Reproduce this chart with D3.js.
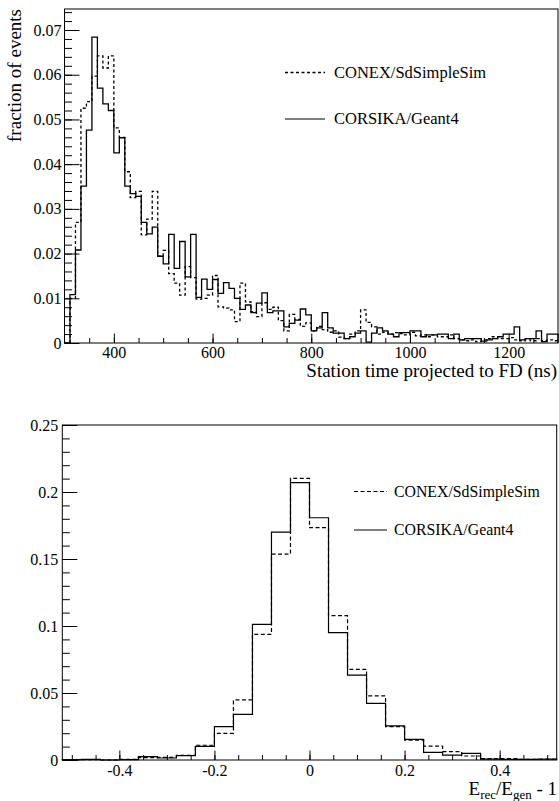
<!DOCTYPE html>
<html>
	<head>
		<meta charset="utf-8"/>
		<script src="https://d3js.org/d3.v7.min.js"></script>
		<style>
			body {
				margin: 0;
				background: #fff;
			}
			svg text {
				font-family: "Liberation Serif", "Times New Roman", serif;
				fill: #000;
			}
			.frame {
				fill: none;
				stroke: #000;
				stroke-width: 1;
			}
			.axis path.domain {
				display: none;
			}
			.axis line {
				stroke: #000;
				stroke-width: 1;
			}
			.hist {
				fill: none;
				stroke: #000;
			}
		</style>
	</head>
	<body>
		<svg id="chart" width="559" height="801"></svg>
		<script>
			// station time histogram, 90 bins from 300 to 1300 ns
			var timeRange = [300, 1300];
			var timeCorsika = [
				0, 0.0108, 0.0208, 0.0351, 0.0476, 0.0684, 0.0570, 0.0535, 0.0520, 0.0425,
				0.0459, 0.0351, 0.0334, 0.0328, 0.0270, 0.0244, 0.0259, 0.0194, 0.0177, 0.0243,
				0.0167, 0.0227, 0.0148, 0.0243, 0.0102, 0.0143, 0.0120, 0.0142, 0.0111, 0.0135,
				0.0122, 0.0100, 0.0075, 0.0085, 0.0068, 0.0089, 0.0112, 0.0068, 0.0072, 0.0072,
				0.0036, 0.0044, 0.0051, 0.0076, 0.0063, 0.0027, 0.0034, 0.0068, 0.0034, 0.0022,
				0.0022, 0.0010, 0.0014, 0.0022, 0.0027, 0.0002, 0.0022, 0.0034, 0.0027, 0.0020,
				0.0014, 0.0023, 0.0023, 0.0027, 0.0027, 0.0014, 0.0018, 0.0018, 0.0020, 0.0020,
				0.0010, 0.0020, 0.0007, 0.0010, 0.0010, 0.0010, 0.0004, 0.0007, 0.0010, 0.0014,
				0.0020, 0.0020, 0.0036, 0.0007, 0.0010, 0.0010, 0.0027, 0.0003, 0.0020, 0.0020
			];
			var timeConex = [
				0, 0.0100, 0.0270, 0.0525, 0.0540, 0.0597, 0.0642, 0.0615, 0.0642, 0.0481,
				0.0460, 0.0383, 0.0325, 0.0339, 0.0242, 0.0277, 0.0339, 0.0194, 0.0207, 0.0155,
				0.0134, 0.0107, 0.0171, 0.0146, 0.0098, 0.0100, 0.0107, 0.0151, 0.0081, 0.0078,
				0.0074, 0.0048, 0.0134, 0.0092, 0.0070, 0.0059, 0.0090, 0.0075, 0.0080, 0.0050,
				0.0027, 0.0064, 0.0053, 0.0037, 0.0045, 0.0027, 0.0037, 0.0030, 0.0024, 0.0027,
				0.0013, 0.0010, 0.0020, 0.0027, 0.0074, 0.0046, 0.0036, 0.0020, 0.0024, 0.0020,
				0.0023, 0.0021, 0.0018, 0.0024, 0.0016, 0.0018, 0.0014, 0.0018, 0.0014, 0.0014,
				0.0018, 0.0010, 0.0007, 0.0005, 0.0007, 0.0003, 0.0007, 0.0010, 0.0014, 0.0010,
				0.0010, 0.0012, 0.0007, 0.0005, 0.0007, 0.0005, 0.0010, 0.0005, 0.0007, 0.0005
			];
			var timeXTicks = [400, 600, 800, 1000, 1200];
			var timeYTicks = [0, 0.01, 0.02, 0.03, 0.04, 0.05, 0.06, 0.07];
			var timeYLabels = ["0", "0.01", "0.02", "0.03", "0.04", "0.05", "0.06", "0.07"];

			// energy resolution histogram, 26 bins of 0.04
			var energyRange = [-0.52, 0.52];
			var energyCorsika = [
				0.0003, 0.0005, 0, 0.0003, 0.0025, 0.0015, 0.0032, 0.0102, 0.0249, 0.0341,
				0.1012, 0.1701, 0.2070, 0.1808, 0.0950, 0.0634, 0.0423, 0.0254, 0.0154, 0.0057,
				0.0037, 0.0050, 0.0007, 0.0005, 0.0005, 0.0007
			];
			var energyConex = [
				0, 0.0003, 0, 0.0005, 0.0017, 0.0020, 0.0035, 0.0110, 0.0199, 0.0448,
				0.0938, 0.1537, 0.2102, 0.1734, 0.1077, 0.0677, 0.0478, 0.0249, 0.0149, 0.0104,
				0.0062, 0.0030, 0.0010, 0.0010, 0.0005, 0.0005
			];
			var energyXTicks = [-0.4, -0.2, 0, 0.2, 0.4];
			var energyXLabels = ["-0.4", "-0.2", "0", "0.2", "0.4"];
			var energyYTicks = [0, 0.05, 0.1, 0.15, 0.2, 0.25];
			var energyYLabels = ["0", "0.05", "0.1", "0.15", "0.2", "0.25"];

			var legendNames = ["CONEX/SdSimpleSim", "CORSIKA/Geant4"];

			var serif = '"Liberation Serif", "Times New Roman", serif';
			var svg = d3.select('#chart');

			// step outline of a histogram, starting and ending on the axis
			function histPath(x, y, range, values) {
				var n = values.length;
				var w = (range[1] - range[0]) / n;
				var pts = [[range[0], 0]];
				values.forEach(function(v, i) {
					pts.push([range[0] + i*w, v]);
				});
				pts.push([range[1], values[n-1]]);
				pts.push([range[1], 0]);
				return d3.line()
					.curve(d3.curveStepAfter)
					.x(function(d) {return x(d[0])})
					.y(function(d) {return y(d[1])})(pts);
			}

			function axisGroup(g, tr, axis) {
				return g.append('g').attr('class', 'axis')
					.attr('transform', tr)
					.call(axis)
					.attr('font-family', serif)
					.attr('font-size', 16);
			}

			function panel(opt) {
				var x = d3.scaleLinear().domain(opt.xDomain).range([opt.left, opt.right]);
				var y = d3.scaleLinear().domain(opt.yDomain).range([opt.bottom, opt.top]);
				var g = svg.append('g');

				// minor then major ticks, all pointing into the frame
				axisGroup(g, `translate(0,${opt.bottom})`,
					d3.axisBottom(x).tickValues(opt.xMinor).tickSizeInner(-5).tickSizeOuter(0).tickFormat(''));
				axisGroup(g, `translate(0,${opt.bottom})`,
					d3.axisBottom(x).tickValues(opt.xTicks).tickSizeInner(-9.5).tickSizeOuter(0)
						.tickPadding(opt.xPad)
						.tickFormat(function(d, i) {return opt.xLabels[i]}));
				axisGroup(g, `translate(${opt.left},0)`,
					d3.axisLeft(y).tickValues(opt.yMinor).tickSizeInner(-7.5).tickSizeOuter(0).tickFormat(''));
				axisGroup(g, `translate(${opt.left},0)`,
					d3.axisLeft(y).tickValues(opt.yTicks).tickSizeInner(-15).tickSizeOuter(0)
						.tickPadding(opt.yPad)
						.tickFormat(function(d, i) {return opt.yLabels[i]}));

				g.append('path').attr('class', 'hist')
					.attr('d', histPath(x, y, opt.xDomain, opt.dashed))
					.style('stroke-width', opt.lw)
					.style('stroke-dasharray', opt.dash);
				g.append('path').attr('class', 'hist')
					.attr('d', histPath(x, y, opt.xDomain, opt.solid))
					.style('stroke-width', opt.lw);

				g.append('rect').attr('class', 'frame')
					.attr('x', opt.left).attr('y', opt.top)
					.attr('width', opt.right - opt.left)
					.attr('height', opt.bottom - opt.top);

				// legend
				var lg = opt.legend;
				legendNames.forEach(function(name, i) {
					var ly = lg.y + i*lg.dy;
					g.append('line')
						.attr('x1', lg.x).attr('x2', lg.x + lg.len)
						.attr('y1', ly).attr('y2', ly)
						.style('stroke', '#000')
						.style('stroke-width', i == 0 ? opt.lw : 1.2)
						.style('stroke-dasharray', i == 0 ? opt.dash : null);
					g.append('text')
						.attr('x', lg.x + lg.len + lg.gap).attr('y', ly + lg.size*0.33)
						.style('font-size', lg.size + 'px')
						.text(name);
				});
				return {g: g, x: x, y: y};
			}

			var timePanel = panel({
				xDomain: timeRange, yDomain: [0, 0.0747],
				left: 64.5, right: 558, top: 9, bottom: 343,
				xTicks: timeXTicks, xLabels: timeXTicks.map(String),
				xMinor: d3.range(350, 1300, 50),
				yTicks: timeYTicks, yLabels: timeYLabels,
				yMinor: d3.range(0.002, 0.0746, 0.002),
				xPad: 4, yPad: 3,
				solid: timeCorsika, dashed: timeConex,
				lw: 1.3, dash: '3,2.5',
				legend: {x: 285, y: 72.5, dy: 46.5, len: 40, gap: 9, size: 16.5}
			});
			timePanel.g.append('text')
				.attr('x', 557).attr('y', 377)
				.attr('text-anchor', 'end')
				.style('font-size', '19px')
				.text('Station time projected to FD (ns)');
			timePanel.g.append('text')
				.attr('transform', 'translate(21,9) rotate(-90)')
				.attr('text-anchor', 'end')
				.style('font-size', '19px')
				.text('fraction of events');

			var energyPanel = panel({
				xDomain: energyRange, yDomain: [0, 0.25],
				left: 62.3, right: 556.7, top: 425, bottom: 760,
				xTicks: energyXTicks, xLabels: energyXLabels,
				xMinor: d3.range(-0.5, 0.51, 0.05),
				yTicks: energyYTicks, yLabels: energyYLabels,
				yMinor: d3.range(0.01, 0.25, 0.01),
				xPad: 5, yPad: 4,
				solid: energyCorsika, dashed: energyConex,
				lw: 1.2, dash: '4,2.5',
				legend: {x: 354, y: 491.5, dy: 38.5, len: 33, gap: 7, size: 15.8}
			});
			var xt = energyPanel.g.append('text')
				.attr('x', 557).attr('y', 795)
				.attr('text-anchor', 'end')
				.style('font-size', '19px');
			xt.append('tspan').text('E');
			xt.append('tspan').attr('dy', 4).style('font-size', '13px').text('rec');
			xt.append('tspan').attr('dy', -4).text('/E');
			xt.append('tspan').attr('dy', 4).style('font-size', '13px').text('gen');
			xt.append('tspan').attr('dy', -4).text(' - 1');
		</script>
	</body>
</html>
